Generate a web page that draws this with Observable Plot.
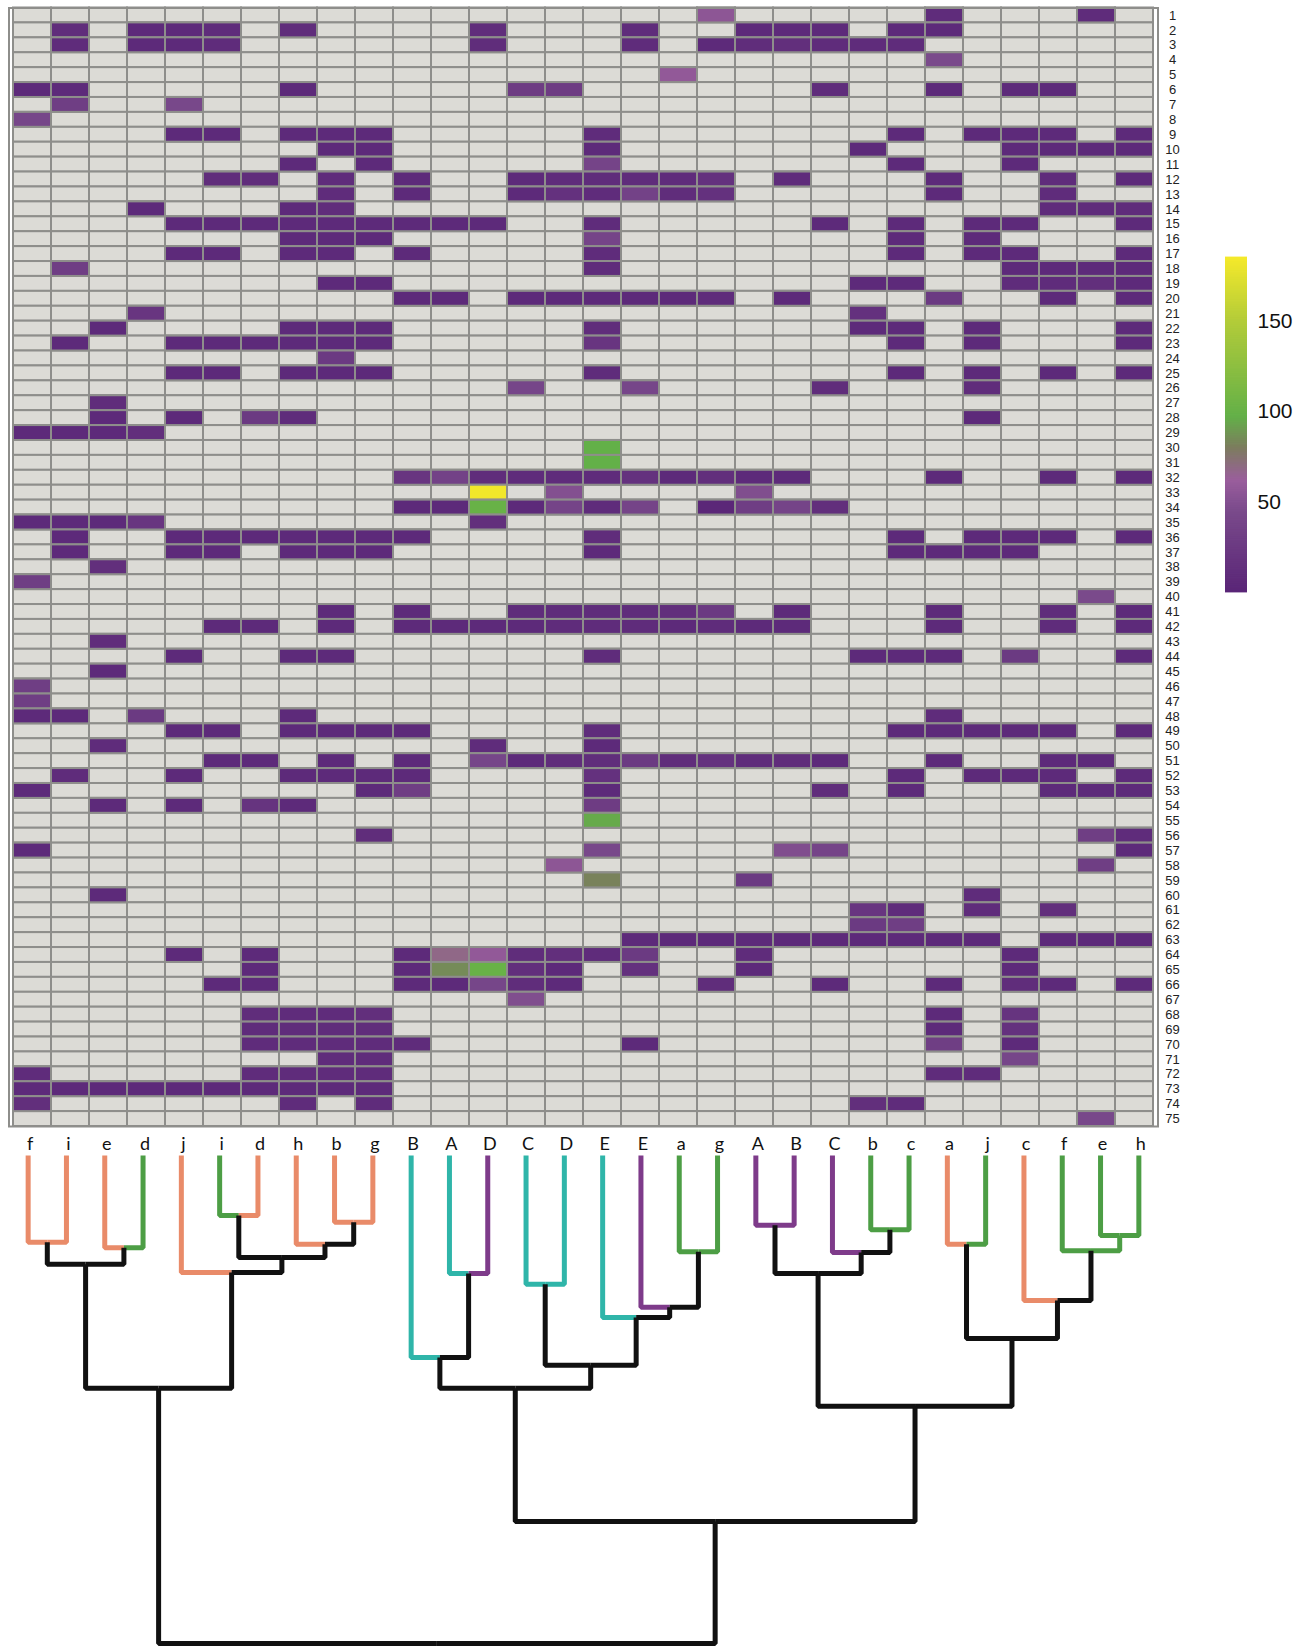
<!DOCTYPE html>
<html><head><meta charset="utf-8">
<script src="https://cdn.jsdelivr.net/npm/d3@7"></script>
<script src="https://cdn.jsdelivr.net/npm/@observablehq/plot@0.6"></script>
<style>
body{margin:0;background:#fff;}
#wrap{position:relative;width:1309px;height:1647px;overflow:hidden;background:#fff;}
</style></head><body><div id="wrap"></div>
<script>
// ---------- data ----------
const colLabels = ["f","i","e","d","j","i","d","h","b","g","B","A","D","C","D","E","E","a","g","A","B","C","b","c","a","j","c","f","e","h"];
const rowLabels = [1,2,3,4,5,6,7,8,9,10,11,12,13,14,15,16,17,18,19,20,21,22,23,24,25,26,27,28,29,30,31,32,33,34,35,36,37,38,39,40,41,42,43,44,45,46,47,48,49,50,51,52,53,54,55,56,57,58,59,60,61,62,63,64,65,66,67,68,69,70,71,72,73,74,75];
// per row: [column (1-based), value]
const heatValues = [
 [[19,55],[25,8],[29,8]],
 [[2,10],[4,6],[5,6],[6,8],[8,10],[13,10],[17,8],[20,6],[21,6],[22,6],[24,6],[25,6]],
 [[2,8],[4,6],[5,6],[6,8],[13,10],[17,8],[19,6],[20,10],[21,12],[22,8],[23,8],[24,8]],
 [[25,45]],
 [[18,58]],
 [[1,6],[2,6],[8,6],[14,28],[15,28],[22,8],[25,6],[27,6],[28,6]],
 [[2,30],[5,42]],
 [[1,40]],
 [[5,6],[6,6],[8,6],[9,6],[10,6],[16,8],[24,6],[26,6],[27,6],[28,6],[30,6]],
 [[9,6],[10,6],[16,6],[23,6],[27,6],[28,6],[29,6],[30,6]],
 [[8,6],[10,6],[16,38],[24,6],[27,6]],
 [[6,10],[7,10],[9,8],[11,6],[14,6],[15,8],[16,8],[17,8],[18,8],[19,15],[21,8],[25,6],[28,8],[30,6]],
 [[9,8],[11,6],[14,6],[15,15],[16,8],[17,35],[18,10],[19,15],[25,6],[28,8]],
 [[4,6],[8,6],[9,10],[28,8],[29,8],[30,8]],
 [[5,6],[6,6],[7,6],[8,6],[9,6],[10,6],[11,6],[12,6],[13,6],[16,8],[22,6],[24,6],[26,6],[27,6],[30,6]],
 [[8,6],[9,6],[10,6],[16,38],[24,6],[26,6]],
 [[5,6],[6,6],[8,6],[9,6],[11,6],[16,8],[24,6],[26,6],[27,6],[30,6]],
 [[2,30],[16,8],[27,6],[28,6],[29,6],[30,6]],
 [[9,6],[10,6],[23,6],[24,6],[27,8],[28,8],[29,12],[30,6]],
 [[11,6],[12,6],[14,6],[15,6],[16,6],[17,6],[18,6],[19,8],[21,6],[25,25],[28,6],[30,6]],
 [[4,20],[23,15]],
 [[3,6],[8,6],[9,6],[10,6],[16,10],[23,6],[24,6],[26,6],[30,6]],
 [[2,6],[5,6],[6,6],[7,6],[8,6],[9,6],[10,6],[16,20],[24,6],[26,6],[30,6]],
 [[9,25]],
 [[5,6],[6,6],[8,6],[9,6],[10,6],[16,8],[24,6],[26,6],[28,6],[30,6]],
 [[14,40],[17,40],[22,10],[26,10]],
 [[3,10]],
 [[3,6],[5,6],[7,25],[8,8],[26,6]],
 [[1,6],[2,6],[3,6],[4,12]],
 [[16,97]],
 [[16,97]],
 [[11,20],[12,35],[13,10],[14,8],[15,8],[16,8],[17,15],[18,6],[19,12],[20,6],[21,6],[25,6],[28,6],[30,6]],
 [[13,183],[15,50],[20,48]],
 [[11,6],[12,6],[13,100],[14,6],[15,38],[16,8],[17,38],[19,3],[20,30],[21,38],[22,12]],
 [[1,6],[2,6],[3,6],[4,20],[13,12]],
 [[2,6],[5,6],[6,6],[7,6],[8,6],[9,6],[10,6],[11,6],[16,10],[24,6],[26,6],[27,6],[28,6],[30,6]],
 [[2,6],[5,6],[6,6],[8,6],[9,6],[10,6],[16,6],[24,6],[25,6],[26,6],[27,6]],
 [[3,12]],
 [[1,30]],
 [[29,45]],
 [[9,6],[11,6],[14,8],[15,8],[16,8],[17,8],[18,12],[19,25],[21,6],[25,6],[28,8],[30,6]],
 [[6,6],[7,6],[9,6],[11,6],[12,6],[13,6],[14,6],[15,8],[16,8],[17,8],[18,6],[19,8],[20,6],[21,6],[25,6],[28,8],[30,6]],
 [[3,10]],
 [[5,6],[8,6],[9,6],[16,8],[23,6],[24,6],[25,6],[27,25],[30,6]],
 [[3,6]],
 [[1,30]],
 [[1,30]],
 [[1,6],[2,6],[4,25],[8,6],[25,8]],
 [[5,6],[6,6],[8,6],[9,6],[10,6],[11,6],[16,8],[24,6],[25,6],[26,6],[27,6],[28,6],[30,6]],
 [[3,8],[13,8],[16,6]],
 [[6,6],[7,6],[9,6],[11,6],[13,40],[14,6],[15,10],[16,10],[17,25],[18,10],[19,15],[20,8],[21,10],[22,6],[25,6],[28,6],[29,6]],
 [[2,8],[5,6],[8,6],[9,6],[10,6],[11,6],[16,15],[24,6],[26,6],[27,6],[28,6],[30,6]],
 [[1,6],[10,6],[11,30],[16,6],[22,10],[24,6],[28,6],[29,6],[30,6]],
 [[3,6],[5,6],[7,18],[8,6],[16,28]],
 [[16,95]],
 [[10,10],[29,30],[30,8]],
 [[1,6],[16,42],[21,48],[22,38],[30,6]],
 [[15,55],[29,30]],
 [[16,82],[20,25]],
 [[3,6],[26,8]],
 [[23,20],[24,8],[26,8],[28,12]],
 [[23,25],[24,30]],
 [[17,6],[18,6],[19,6],[20,6],[21,6],[22,6],[23,6],[24,6],[25,6],[26,6],[28,6],[29,6],[30,6]],
 [[5,6],[7,6],[11,6],[12,68],[13,58],[14,10],[15,12],[16,8],[17,25],[20,8],[27,6]],
 [[7,6],[11,6],[12,85],[13,100],[14,12],[15,6],[17,15],[20,6],[27,6]],
 [[6,6],[7,6],[11,6],[12,6],[13,40],[14,10],[15,6],[19,10],[22,6],[25,6],[27,10],[28,6],[30,6]],
 [[14,48]],
 [[7,10],[8,8],[9,8],[10,12],[25,6],[27,18]],
 [[7,8],[8,8],[9,8],[10,10],[25,6],[27,15]],
 [[7,8],[8,8],[9,8],[10,8],[11,8],[17,6],[25,30],[27,6]],
 [[9,8],[10,8],[27,40]],
 [[1,8],[7,8],[8,8],[9,8],[10,8],[25,8],[26,8]],
 [[1,6],[2,6],[3,6],[4,6],[5,6],[6,6],[7,6],[8,6],[9,6],[10,6]],
 [[1,12],[8,8],[10,8],[23,12],[24,8]],
 [[29,42]]
];
// dendrogram merges: [left, right, height (distance), left colour group, right colour group]
// leaves are 0..29 (columns); merge k creates node 30+k
const merges = [
 [0,1,0.178,"o","o"],
 [2,3,0.189,"o","g"],
 [30,31,0.223,"k","k"],
 [5,6,0.123,"g","o"],
 [8,9,0.137,"o","o"],
 [7,34,0.182,"o","k"],
 [33,35,0.209,"k","k"],
 [4,36,0.240,"o","k"],
 [32,37,0.477,"k","k"],
 [11,12,0.242,"t","p"],
 [10,39,0.414,"t","k"],
 [13,14,0.264,"t","t"],
 [17,18,0.197,"g","g"],
 [16,42,0.311,"p","k"],
 [15,43,0.332,"t","k"],
 [41,44,0.430,"k","k"],
 [40,45,0.477,"k","k"],
 [19,20,0.143,"p","p"],
 [22,23,0.152,"g","g"],
 [21,48,0.199,"p","k"],
 [47,49,0.242,"k","k"],
 [24,25,0.182,"o","g"],
 [28,29,0.164,"g","g"],
 [27,52,0.195,"g","g"],
 [26,53,0.297,"o","k"],
 [51,54,0.375,"k","k"],
 [50,55,0.514,"k","k"],
 [46,56,0.750,"k","k"],
 [38,57,1.000,"k","k"]
];
const legendTicks = [50,100,150];
const colorDomain = [0,45,62,80,97,150,185];
const colorRange = ["#592577","#7a4a8b","#9a5e9c","#7c7c5e","#63b048","#b3cc39","#f5e92a"];
const palette = {o:"#e98b69", g:"#4d9e45", t:"#2fb5a9", p:"#7e3b8a", k:"#111111"};

// ---------- build ----------
const W = 1309, left = 8.5, right = 1157.5;
const FONT = "Lato, 'Open Sans', sans-serif";
const colorScale = {type:"linear", domain: colorDomain, range: colorRange, interpolate:"rgb"};

const allCells = rowLabels.flatMap(r => colLabels.map((_, c) => ({row: r, col: c})));
const filled = heatValues.flatMap((pairs, i) => pairs.map(([c, v]) => ({row: rowLabels[i], col: c - 1, value: v})));

const heat = Plot.plot({
  width: W, height: 1130,
  marginLeft: left, marginRight: W - right, marginTop: 7.5, marginBottom: 4,
  style: {fontFamily: FONT, background: "white", color: "#222"},
  x: {type: "band", domain: d3.range(30), padding: 0, axis: null},
  y: {type: "band", domain: rowLabels, padding: 0},
  color: colorScale,
  marks: [
    Plot.cell(allCells, {x: "col", y: "row", fill: "#dcdbd6", stroke: "#8e8e8b", strokeWidth: 2}),
    Plot.cell(filled, {x: "col", y: "row", fill: "value", stroke: "#8e8e8b", strokeWidth: 2}),
    Plot.frame({stroke: "#8e8e8b", strokeWidth: 2}),
    Plot.axisY({anchor: "right", tickSize: 0, tickPadding: 14.5, textAnchor: "middle", fontSize: 13, fill: "#222", label: null,
                fontFamily: "'Liberation Sans', Arial, sans-serif"})
  ]
});

const nodeX = colLabels.map((_, i) => i);
const nodeH = colLabels.map(() => 0);
const paths = [];
merges.forEach(([l, r, h, cl, cr], k) => {
  const xm = (nodeX[l] + nodeX[r]) / 2;
  [[l, cl], [r, cr]].forEach(([c, g], j) => {
    const id = "m" + k + "-" + j, color = palette[g];
    paths.push({id, x: nodeX[c], y: nodeH[c], color},
               {id, x: nodeX[c], y: h, color},
               {id, x: xm, y: h, color});
  });
  nodeX.push(xm); nodeH.push(h);
});

const dendro = Plot.plot({
  width: W, height: 517,
  marginLeft: left, marginRight: W - right, marginTop: 25, marginBottom: 4,
  style: {fontFamily: FONT, background: "transparent", color: "#111"},
  x: {domain: [-0.5, 29.5]},
  y: {domain: [0, 1], reverse: true, axis: null},
  color: {type: "identity"},
  marks: [
    Plot.line(paths, {x: "x", y: "y", z: "id", stroke: "color", strokeWidth: 5, strokeLinejoin: "miter", strokeLinecap: "butt"}),
    Plot.axisX({anchor: "top", ticks: d3.range(30), tickFormat: i => colLabels[i], tickSize: 0, tickPadding: 6, fontSize: 18, dx: 2, fill: "#111", label: null})
  ]
});

const ramp = d3.range(0, 185, 1);
const legend = Plot.plot({
  width: 99, height: 370,
  marginLeft: 15, marginRight: 62, marginTop: 17, marginBottom: 18,
  style: {fontFamily: "'Liberation Sans', Arial, sans-serif", background: "transparent", color: "#111"},
  y: {domain: [0, 185]},
  color: colorScale,
  marks: [
    Plot.rect(ramp, {y1: d => d, y2: d => d + 1, fill: d => d + 0.5, insetTop: -0.4, insetBottom: -0.4}),
    Plot.axisY({anchor: "right", ticks: legendTicks, tickSize: 0, tickPadding: 10, fontSize: 21, fill: "#111", label: null})
  ]
});

const wrap = document.getElementById("wrap");
[[heat, 0, 0], [dendro, 0, 1130], [legend, 1210, 240]].forEach(([el, x, y]) => {
  el.style.position = "absolute";
  el.style.left = x + "px";
  el.style.top = y + "px";
  el.style.maxWidth = "none";
  wrap.appendChild(el);
});
</script></body></html>
